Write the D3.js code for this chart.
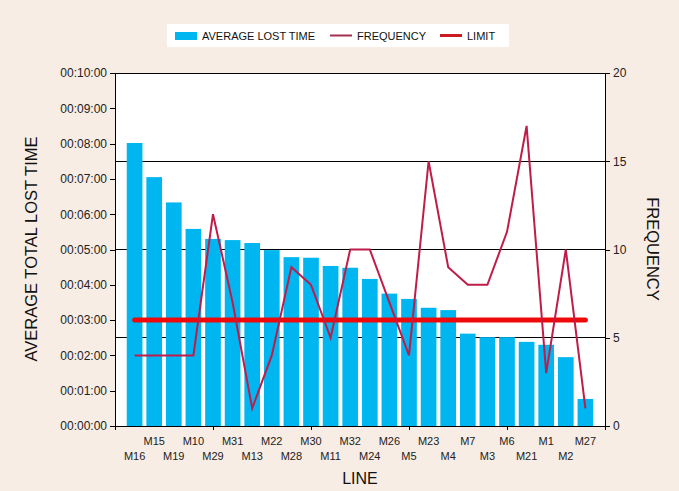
<!DOCTYPE html>
<html><head><meta charset="utf-8">
<script src="https://cdn.jsdelivr.net/npm/d3@7"></script>
<style>
body{margin:0;background:#f8ede4;}
svg{display:block;font-family:"Liberation Sans",Arial,sans-serif;}
</style></head>
<body><svg id="c" width="679" height="491"></svg>
<script>
const categories = ["M16","M15","M19","M10","M29","M31","M13","M22","M28","M30","M11","M32","M24","M26","M5","M23","M4","M7","M3","M6","M21","M1","M2","M27"];
// average lost time in seconds
const avgLostSeconds = [481,423,380,335,318,316,311,299,287,286,272,269,250,225,216,201,197,157,151,151,143,138,117,46];
const frequency = [4,4,4,4,12,7,1,4,9,8,5,10,10,7,4,15,9,8,8,11,17,3,10,1];
const limitValue = 6;
const leftTicks = [0,60,120,180,240,300,360,420,480,540,600];
const rightTicks = [0,5,10,15,20];
const xTickCats = ["M29","M30","M5","M6"];

const svg = d3.select("#c");
const L = 115, R = 605, T = 73, B = 426;

const x = d3.scalePoint().domain(categories).range([L, R]).padding(1);
const yT = d3.scaleLinear().domain([0, 600]).range([B, T]);
const yF = d3.scaleLinear().domain([0, 20]).range([B, T]);
const step = x.step();
const bw = step * 0.8;

const fmt = s => { const m = Math.floor(s/60), ss = s%60; return "00:" + String(m).padStart(2,"0") + ":" + String(ss).padStart(2,"0"); };

// plot background
svg.append("rect").attr("x", L).attr("y", T).attr("width", R-L).attr("height", B-T).attr("fill", "#fff");

// gridlines (frequency)
svg.append("g").selectAll("line").data(rightTicks).join("line")
  .attr("x1", L).attr("x2", R).attr("y1", d => yF(d)).attr("y2", d => yF(d))
  .attr("stroke", "#000").attr("stroke-width", 1).attr("shape-rendering","crispEdges");

// bars
svg.append("g").selectAll("rect").data(categories).join("rect")
  .attr("x", (d) => x(d) - bw/2)
  .attr("width", bw)
  .attr("y", (d,i) => yT(avgLostSeconds[i]))
  .attr("height", (d,i) => B - yT(avgLostSeconds[i]))
  .attr("fill", "#00b6f1");

// limit line
svg.append("line")
  .attr("x1", x(categories[0])).attr("x2", x(categories[categories.length-1]))
  .attr("y1", yF(limitValue)).attr("y2", yF(limitValue))
  .attr("stroke", "#ee0a0a").attr("stroke-width", 5).attr("stroke-linecap","round");

// frequency line
svg.append("path")
  .datum(frequency)
  .attr("d", d3.line().x((d,i) => x(categories[i])).y(d => yF(d)))
  .attr("fill", "none").attr("stroke", "#c01c4a").attr("stroke-width", 2);

// axes
const left = svg.append("g").attr("transform", `translate(${L},0)`)
  .call(d3.axisLeft(yT).tickValues(leftTicks).tickFormat(fmt).tickSizeOuter(0).tickSize(5));
const right = svg.append("g").attr("transform", `translate(${R},0)`)
  .call(d3.axisRight(yF).tickValues(rightTicks).tickSizeOuter(0).tickSize(5));
const bottom = svg.append("g").attr("transform", `translate(0,${B})`)
  .call(d3.axisBottom(x).tickValues(xTickCats).tickFormat("").tickSizeOuter(0).tickSize(4));
bottom.select(".domain").attr("d", `M${L-1},0.5H${R}`);
[left, right, bottom].forEach(g => {
  g.selectAll("path,line").attr("stroke", "#000").attr("shape-rendering","crispEdges");
  g.selectAll("text").attr("font-size", 12).attr("fill", "#222").attr("font-family", "Liberation Sans, Arial, sans-serif");
});
left.select(".domain").attr("d", `M0.5,${T}V${B+4}`);
right.select(".domain").attr("d", `M0.5,${T}V${B+4}`);

// category labels (staggered)
svg.append("g").selectAll("text").data(categories).join("text")
  .attr("x", d => x(d))
  .attr("y", (d,i) => i % 2 === 1 ? 445 : 460)
  .attr("text-anchor", "middle")
  .attr("font-size", 11).attr("fill", "#222")
  .text(d => d);

// axis titles
svg.append("text").attr("transform", "translate(37,249) rotate(-90)")
  .attr("text-anchor", "middle").attr("font-size", 16.5).attr("fill", "#111")
  .text("AVERAGE TOTAL LOST TIME");
svg.append("text").attr("transform", "translate(647,249) rotate(90)")
  .attr("text-anchor", "middle").attr("font-size", 16.5).attr("fill", "#111")
  .text("FREQUENCY");
svg.append("text").attr("x", 360).attr("y", 484)
  .attr("text-anchor", "middle").attr("font-size", 16).attr("fill", "#111")
  .text("LINE");

// legend
const lg = svg.append("g");
lg.append("rect").attr("x", 167).attr("y", 24).attr("width", 342).attr("height", 23).attr("fill", "#fff");
lg.append("rect").attr("x", 175).attr("y", 32).attr("width", 22).attr("height", 8).attr("fill", "#00b6f1");
lg.append("text").attr("x", 202).attr("y", 40).attr("font-size", 11).attr("fill", "#111").text("AVERAGE LOST TIME");
lg.append("line").attr("x1", 330).attr("x2", 352).attr("y1", 35.5).attr("y2", 35.5).attr("stroke", "#a33050").attr("stroke-width", 2);
lg.append("text").attr("x", 357).attr("y", 40).attr("font-size", 11).attr("fill", "#111").text("FREQUENCY");
lg.append("line").attr("x1", 440).attr("x2", 462).attr("y1", 35.5).attr("y2", 35.5).attr("stroke", "#cc1a22").attr("stroke-width", 3);
lg.append("text").attr("x", 467).attr("y", 40).attr("font-size", 11).attr("fill", "#111").text("LIMIT");
</script></body></html>
